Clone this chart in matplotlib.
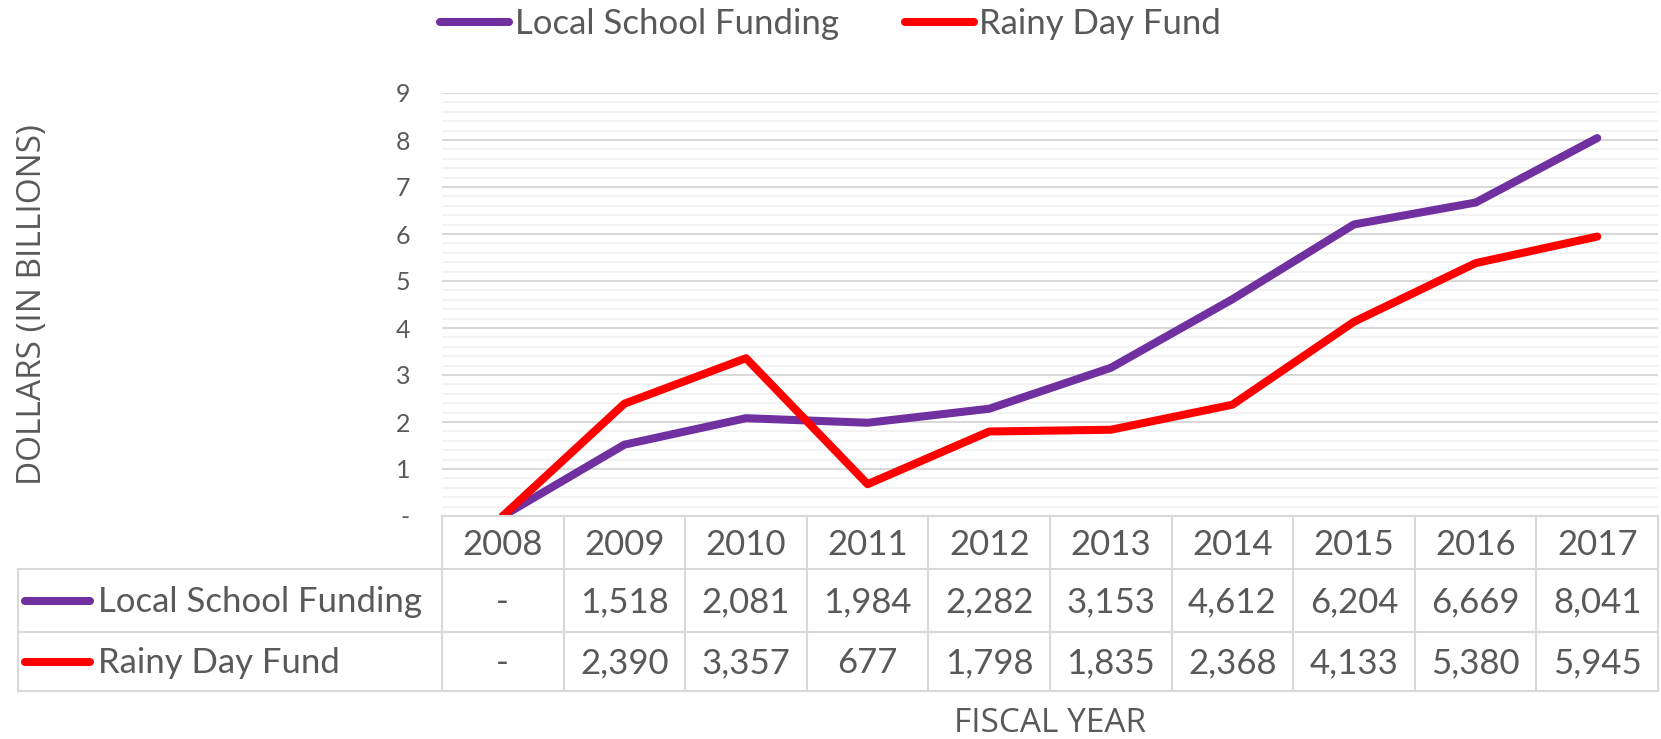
import numpy as np
import matplotlib.pyplot as plt
from matplotlib.lines import Line2D
from matplotlib.transforms import blended_transform_factory

# data (billions of dollars)
years = ['2008', '2009', '2010', '2011', '2012', '2013', '2014', '2015', '2016', '2017']
local_school = [0, 1.518, 2.081, 1.984, 2.282, 3.153, 4.612, 6.204, 6.669, 8.041]
rainy_day = [0, 2.390, 3.357, 0.677, 1.798, 1.835, 2.368, 4.133, 5.380, 5.945]
series_names = ['Local School Funding', 'Rainy Day Fund']
ytick_labels = ['-', '1', '2', '3', '4', '5', '6', '7', '8', '9']

PURPLE = '#7030A0'
RED = '#FF0000'
TXT = '#595959'
GRID = '#D9D9D9'

plt.rcParams['font.family'] = ['Lato', 'DejaVu Sans']

W, H = 1661, 739
def fx(px):
    return px / W
def fy(py):
    return 1 - py / H

def fmt(v):
    return '-' if v == 0 else f'{v * 1000:,.0f}'

fig = plt.figure(figsize=(W / 100, H / 100), dpi=100)
ax = fig.add_axes([fx(442), fy(516), fx(1658) - fx(442), (516 - 93) / H])

x = np.arange(len(years))
ax.plot(x, local_school, color=PURPLE, lw=5.8, solid_capstyle='round', solid_joinstyle='round')
ax.plot(x, rainy_day, color=RED, lw=5.8, solid_capstyle='round', solid_joinstyle='round')

ax.set_xlim(-0.5, len(years) - 0.5)
ax.set_ylim(0, 9)
ax.set_xticks([])
ax.set_yticks(range(10))
ax.set_yticklabels(ytick_labels)
ax.set_yticks(np.arange(0, 9.01, 0.2), minor=True)
ax.grid(which='major', axis='y', color=GRID, lw=1.5)
ax.grid(which='minor', axis='y', color='#F0F0F0', lw=1.2)
ax.set_axisbelow(True)
ax.tick_params(axis='y', which='both', length=0, pad=23, labelsize=18, labelcolor=TXT)
for s in ax.spines.values():
    s.set_visible(False)

# data table under the chart
FS = 25
tr = blended_transform_factory(ax.transData, fig.transFigure)
row_top, row_hdr, row_1, row_2 = 516, 569, 632, 691
for i in range(len(years) + 1):
    fig.add_artist(Line2D([i - 0.5, i - 0.5], [fy(row_top), fy(row_2)], transform=tr,
                          color=GRID, lw=1.5))
fig.add_artist(Line2D([-0.5, len(years) - 0.5], [fy(row_top)] * 2, transform=tr, color=GRID, lw=1.5))
for yy in [row_hdr, row_1, row_2]:
    fig.add_artist(Line2D([fx(18), fx(1658)], [fy(yy)] * 2, color=GRID, lw=1.5))
fig.add_artist(Line2D([fx(18), fx(18)], [fy(row_hdr), fy(row_2)], color=GRID, lw=1.5))

for i, yr in enumerate(years):
    fig.text(i, fy(545), yr, transform=tr, ha='center', va='center', fontsize=FS, color=TXT)
    fig.text(i, fy(602), fmt(local_school[i]), transform=tr, ha='center', va='center',
             fontsize=FS, color=TXT)
    fig.text(i, fy(663), fmt(rainy_day[i]), transform=tr, ha='center', va='center',
             fontsize=FS, color=TXT)

for name, col, yc in [(series_names[0], PURPLE, 601), (series_names[1], RED, 662)]:
    fig.add_artist(Line2D([fx(25), fx(90)], [fy(yc)] * 2, color=col, lw=5.8, solid_capstyle='round'))
    fig.text(fx(98), fy(yc + 1), name, ha='left', va='center', fontsize=FS, color=TXT)

# legend on top
handles = [Line2D([], [], color=PURPLE, lw=5.8, solid_capstyle='round'),
           Line2D([], [], color=RED, lw=5.8, solid_capstyle='round')]
fig.legend(handles, series_names, loc='center', bbox_to_anchor=(0.5, fy(24)), ncol=2,
           frameon=False, fontsize=FS, handlelength=2.0, handletextpad=0.15,
           columnspacing=1.9, labelcolor=TXT)

fig.text(fx(33), fy(305), 'DOLLARS (IN BILLIONS)', rotation=90, ha='center', va='center',
         fontsize=24, color=TXT, family='Open Sans')
fig.text(fx(1050), fy(723), 'FISCAL YEAR', ha='center', va='center',
         fontsize=24, color=TXT, family='Open Sans')

fig.savefig('out.png', dpi=100)
